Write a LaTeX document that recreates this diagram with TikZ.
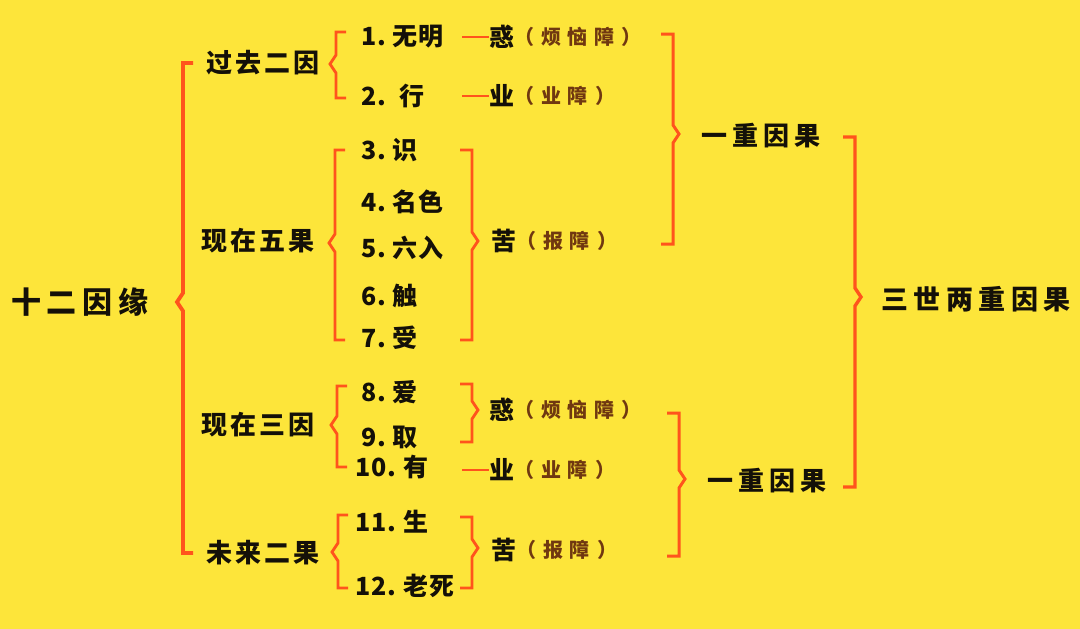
\documentclass[tikz,border=0pt]{standalone}
\usepackage{fontspec}
\setmainfont{Noto Sans CJK SC}
\newfontfamily\titlefont[LetterSpace=20]{Noto Sans CJK SC}
\newfontfamily\widefont[LetterSpace=12]{Noto Sans CJK SC}
\newfontfamily\pairfont[LetterSpace=19]{Noto Sans CJK SC}
\newfontfamily\itemfont[LetterSpace=4]{Noto Sans CJK SC}
\newfontfamily\notefont[LetterSpace=32]{Noto Sans CJK SC}
\usetikzlibrary{positioning}
\definecolor{bg}{RGB}{253,229,58}
\definecolor{brkc}{RGB}{255,84,28}
\definecolor{notec}{RGB}{112,56,16}
\definecolor{txt}{RGB}{20,16,8}

% brackets: x, top, middle, bottom, width
\newcommand{\leftbrk}[5]{\draw[brk, line width=#5] (#1+10,#2) -- (#1,#2) -- (#1,#3-9) -- (#1-6,#3) -- (#1,#3+9) -- (#1,#4) -- (#1+10,#4);}
\newcommand{\rightbrk}[5]{\draw[brk, line width=#5] (#1-12,#2) -- (#1,#2) -- (#1,#3-9) -- (#1+6,#3) -- (#1,#3+9) -- (#1,#4) -- (#1-12,#4);}
\newcommand{\gap}{\hspace{7pt}}

\begin{document}
\begin{tikzpicture}[x=1pt,y=-1pt,
    brk/.style={draw=brkc, line join=miter},
    dashline/.style={draw=brkc, line width=1.8pt},
    title/.style={font=\titlefont\bfseries\fontsize{30}{30}\selectfont, text=txt, inner sep=0pt},
    group/.style={font=\widefont\bfseries\fontsize{26}{26}\selectfont, text=txt, inner sep=0pt},
    pair/.style={font=\pairfont\bfseries\fontsize{26}{26}\selectfont, text=txt, inner sep=0pt},
    item/.style={font=\itemfont\bfseries\fontsize{25}{25}\selectfont, text=txt, anchor=west, inner sep=0pt},
    note/.style={font=\bfseries\fontsize{25}{25}\selectfont, text=txt, anchor=west, inner sep=0pt},
    brown/.style={font=\notefont\bfseries\fontsize{20}{20}\selectfont, text=notec, anchor=west, inner sep=0pt}]
\fill[bg] (0,0) rectangle (1080,629);

% left column
\node[title] (all) at (80,302) {十二因缘};
\node[group] (g1) at (263,63) {过去二因};
\node[group] (g2) at (258,241) {现在五果};
\node[group] (g3) at (258,425) {现在三因};
\node[group] (g4) at (263,553) {未来二果};

% twelve links
\node[item] (i1) at (361,37) {1.\ 无明};
\node[item] (i2) at (361,96) {2.\ \ 行};
\node[item] (i3) at (361,150) {3.\ 识};
\node[item] (i4) at (361,202) {4.\ 名色};
\node[item] (i5) at (361,248) {5.\ 六入};
\node[item] (i6) at (361,296) {6.\ 触};
\node[item] (i7) at (361,338) {7.\ 受};
\node[item] (i8) at (361,392) {8.\ 爱};
\node[item] (i9) at (361,437) {9.\ 取};
\node[item] (i10) at (355,467) {10.\ 有};
\node[item] (i11) at (355,522) {11.\ 生};
\node[item] (i12) at (355,586) {12.\ 老死};

% notes
\node[note] (n1) at (489,37) {惑};
\node[brown, right=0pt of n1] (b1) {（\gap 烦恼障\gap）};
\node[note] (n2) at (489,96) {业};
\node[brown, right=0pt of n2] (b2) {（\gap 业障\gap）};
\node[note] (n3) at (491,241) {苦};
\node[brown, right=0pt of n3] (b3) {（\gap 报障\gap）};
\node[note] (n8) at (489,410) {惑};
\node[brown, right=0pt of n8] (b8) {（\gap 烦恼障\gap）};
\node[note] (n10) at (489,470) {业};
\node[brown, right=0pt of n10] (b10) {（\gap 业障\gap）};
\node[note] (n11) at (491,550) {苦};
\node[brown, right=0pt of n11] (b11) {（\gap 报障\gap）};

% right column
\node[pair] (c1) at (761,136) {一重因果};
\node[pair] (c2) at (767,481) {一重因果};
\node[pair, font=\titlefont\bfseries\fontsize{27}{27}\selectfont] (top) at (976,299) {三世两重因果};

% dashes
\coordinate (d1) at (462,37);
\coordinate (d2) at (462,96);
\coordinate (d10) at (462,470);
\draw[dashline] (d1) -- (n1.west);
\draw[dashline] (d2) -- (n2.west);
\draw[dashline] (d10) -- (n10.west);

% brackets
\leftbrk{183}{63}{302}{553}{3.8pt}
\leftbrk{336}{32}{64}{98}{2.8pt}
\leftbrk{335}{150}{243}{340}{2.8pt}
\leftbrk{337}{386}{425}{467}{2.8pt}
\leftbrk{338}{515}{552}{588}{2.8pt}
\rightbrk{472}{150}{241}{340}{2.8pt}
\rightbrk{472}{384}{410}{442}{2.8pt}
\rightbrk{472}{517}{548}{588}{2.8pt}
\rightbrk{673}{34}{134}{244}{3pt}
\rightbrk{679}{413}{479}{556}{3pt}
\rightbrk{855}{137}{297}{487}{3.4pt}
\end{tikzpicture}
\end{document}
